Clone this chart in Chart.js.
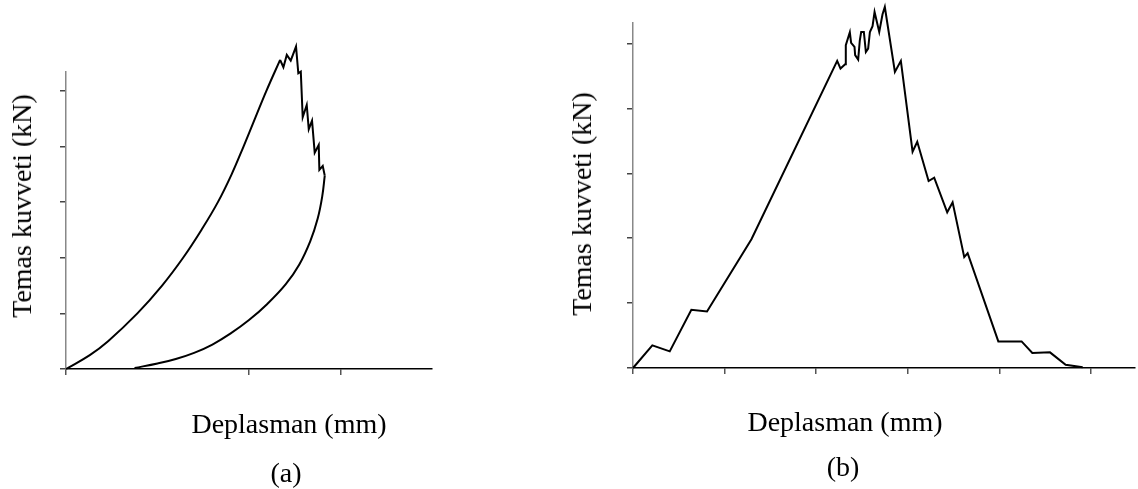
<!DOCTYPE html>
<html>
<head>
<meta charset="utf-8">
<script src="https://cdn.jsdelivr.net/npm/chart.js@4.4.1/dist/chart.umd.min.js"></script>
<style>
  html, body { margin: 0; padding: 0; background: #fff; }
  #wrap { position: relative; width: 1138px; height: 489px; overflow: hidden; }
  .box { position: absolute; top: 0; height: 489px; }
  .lbl {
    position: absolute; white-space: nowrap; color: #000;
    font-family: "Liberation Serif", "Times New Roman", serif;
    font-size: 28px; line-height: 28px;
  }
  .rot { transform: translate(-50%, -50%) rotate(-90deg); }
  .hz { transform: translateX(-50%); }
</style>
</head>
<body>
<div id="wrap">
  <div class="box" style="left:0;width:560px"><canvas id="chartA"></canvas></div>
  <div class="box" style="left:560px;width:578px"><canvas id="chartB"></canvas></div>

  <div class="lbl rot" style="left:22px;top:206px">Temas kuvveti (kN)</div>
  <div class="lbl hz" style="left:289px;top:410px">Deplasman (mm)</div>
  <div class="lbl hz" style="left:286px;top:459px">(a)</div>

  <div class="lbl rot" style="left:582px;top:204px">Temas kuvveti (kN)</div>
  <div class="lbl hz" style="left:845px;top:408px">Deplasman (mm)</div>
  <div class="lbl hz" style="left:843px;top:453px">(b)</div>
</div>

<script>
document.addEventListener("DOMContentLoaded", function () {

// ---- (a) yukleme / bosaltma egrisi ----
const loadX = [0, 0.26, 0.46, 0.78, 1.05, 1.28, 1.48, 1.66, 1.81, 1.94, 2.065, 2.19, 2.340];
const loadY = [0, 0.25, 0.5, 1, 1.5, 2, 2.5, 3, 3.5, 4, 4.5, 5, 5.558];

const peakX = [2.340, 2.376, 2.413, 2.456, 2.514, 2.539, 2.566, 2.587, 2.631, 2.653, 2.689, 2.718, 2.762, 2.769, 2.806, 2.828];
const peakY = [5.558, 5.426, 5.647, 5.545, 5.797, 5.318, 5.347, 4.527, 4.748, 4.311, 4.466, 3.890, 4.029, 3.579, 3.651, 3.477];

const unloadX = [2.828, 2.80, 2.75, 2.67, 2.55, 2.4, 2.2, 2.0, 1.8, 1.6, 1.4, 1.2, 1.0, 0.749];
const unloadY = [3.477, 3.1, 2.7, 2.3, 1.88, 1.52, 1.17, 0.88, 0.64, 0.44, 0.29, 0.18, 0.10, 0.018];

// ---- (b) kuvvet - deplasman ----
const dispB = [0, 0.211, 0.401, 0.637, 0.808, 1.293, 2.229, 2.265, 2.316, 2.323, 2.367, 2.381, 2.418, 2.425, 2.458,
  2.476, 2.491, 2.520, 2.542, 2.567, 2.586, 2.615, 2.637, 2.688, 2.724, 2.749, 2.859, 2.924, 3.052, 3.103,
  3.227, 3.288, 3.430, 3.489, 3.616, 3.653, 3.988, 4.242, 4.359, 4.552, 4.723, 4.909];
const forceB = [0, 0.349, 0.256, 0.897, 0.872, 1.985, 4.733, 4.615, 4.682, 4.974, 5.174, 5.010, 4.949, 4.821, 4.754,
  5.051, 5.179, 5.179, 4.872, 4.923, 5.179, 5.267, 5.487, 5.179, 5.451, 5.564, 4.564, 4.733, 3.333, 3.487,
  2.882, 2.933, 2.400, 2.554, 1.708, 1.769, 0.410, 0.410, 0.231, 0.241, 0.051, 0.010];

// tick yerleri
const xTicksA = [0, 2, 3];
const yTicksA = [0, 1, 2, 3, 4, 5];
const xTicksB = [0, 1, 2, 3, 4, 5];
const yTicksB = [0, 1, 2, 3, 4, 5];

function toPoints(xs, ys) {
  return xs.map((x, i) => ({ x: x, y: ys[i] }));
}

function lineSet(xs, ys, tension) {
  return {
    data: toPoints(xs, ys),
    borderColor: '#000',
    borderWidth: 2,
    pointRadius: 0,
    tension: tension,
    clip: false,
    showLine: true
  };
}

// tick isaretleri sadece istenen degerlerde
function tickColor(list, col) {
  return (ctx) => (ctx.tick && list.includes(Math.round(ctx.tick.value * 1000) / 1000)) ? col : 'rgba(0,0,0,0)';
}

function axes(xMax, yMax, xList, yList) {
  return {
    x: {
      type: 'linear', min: 0, max: xMax,
      ticks: { display: false, stepSize: 1, includeBounds: false },
      grid: { drawOnChartArea: false, drawTicks: true, tickLength: 6, lineWidth: 1.5, color: tickColor(xList, '#555') },
      border: { display: true, color: '#000', width: 1.5 }
    },
    y: {
      type: 'linear', min: 0, max: yMax,
      ticks: { display: false, stepSize: 1, includeBounds: false },
      grid: { drawOnChartArea: false, drawTicks: true, tickLength: 6, lineWidth: 1.5, color: tickColor(yList, '#444') },
      border: { display: true, color: '#888', width: 1.5 }
    }
  };
}

const common = {
  responsive: true,
  maintainAspectRatio: false,
  animation: false,
  events: [],
  plugins: { legend: { display: false }, tooltip: { enabled: false } }
};

new Chart(document.getElementById('chartA').getContext('2d'), {
  type: 'scatter',
  data: {
    datasets: [
      lineSet(loadX, loadY, 0.4),
      lineSet(peakX, peakY, 0),
      lineSet(unloadX, unloadY, 0.4)
    ]
  },
  options: Object.assign({}, common, {
    layout: { padding: { left: 60, top: 72, right: 128, bottom: 114 } },
    scales: axes(4, 5.34, xTicksA, yTicksA)
  })
});

new Chart(document.getElementById('chartB').getContext('2d'), {
  type: 'scatter',
  data: { datasets: [lineSet(dispB, forceB, 0)] },
  options: Object.assign({}, common, {
    layout: { padding: { left: 67, top: 23, right: 3, bottom: 115 } },
    scales: axes(5.48, 5.317, xTicksB, yTicksB)
  })
});

});
</script>
</body>
</html>
